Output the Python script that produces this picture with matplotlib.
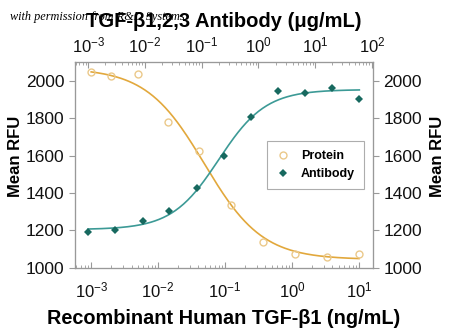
import numpy as np
import matplotlib
matplotlib.use("Agg")
import matplotlib.pyplot as plt
from matplotlib.ticker import LogLocator

plt.rcParams["font.family"] = ["Liberation Sans", "DejaVu Sans"]

# Protein (bottom axis, ng/mL)
protein_x = [0.001, 0.002, 0.005, 0.014, 0.041, 0.123, 0.37, 1.1, 3.3, 10]
protein_y = [2048, 2027, 2037, 1781, 1626, 1337, 1139, 1075, 1059, 1075]
# 4PL fit: bottom, top, ec50, hill
protein_fit = [1045, 2068, 0.049, 1.0]

# Antibody (top axis, ug/mL)
antibody_x = [0.001, 0.003, 0.0091, 0.027, 0.082, 0.247, 0.74, 2.22, 6.67, 20, 60]
antibody_y = [1193, 1203, 1251, 1305, 1428, 1599, 1807, 1947, 1936, 1963, 1904]
antibody_fit = [1205, 1953, 0.2, 1.05]

yticks = [1000, 1200, 1400, 1600, 1800, 2000]

gold = "#E2A83C"
teal = "#3C9A96"
teal_dark = "#17695F"

fig = plt.figure(figsize=(4.5, 3.32), dpi=100)
ax = fig.add_axes([0.167, 0.193, 0.662, 0.62])

xs = np.logspace(-3, 1, 200)
b, t, ec, h = protein_fit
ax.plot(xs, b + (t - b) / (1 + (xs / ec) ** h), color=gold, lw=1.2)
pts_p, = ax.plot(protein_x, protein_y, "o", mfc="none", mec="#EBC98A", ms=5, mew=1.0)
ax.set_xscale("log")
ax.set_xlim(10 ** -3.24, 10 ** 1.21)
ax.set_ylim(1000, 2100)
ax.set_yticks(yticks)

ax2 = ax.twiny()
ax2.set_xscale("log")
ax2.set_xlim(10 ** -3.23, 10 ** 2.02)
ax2.xaxis.set_major_locator(LogLocator(base=10, numticks=20))
ax2.xaxis.set_minor_locator(LogLocator(base=10, subs=np.arange(2, 10), numticks=20))
xa = np.logspace(-3, np.log10(60), 200)
b, t, ec, h = antibody_fit
ax2.plot(xa, b + (t - b) / (1 + (ec / xa) ** h), color=teal, lw=1.2)
pts_a, = ax2.plot(antibody_x, antibody_y, "D", color=teal_dark, ms=4.2, mew=0)

ax3 = ax.twinx()
ax3.set_ylim(1000, 2100)
ax3.set_yticks(yticks)

for a in (ax, ax2, ax3):
    for s in a.spines.values():
        s.set_color("#999999")
        s.set_linewidth(0.8)

ax.tick_params(axis="x", which="both", direction="in", colors="#999999", labelcolor="#111111", labelsize=12, pad=9)
ax.tick_params(axis="x", which="major", length=4)
ax.tick_params(axis="x", which="minor", length=2)
ax2.tick_params(axis="x", which="both", direction="in", colors="#999999", labelcolor="#111111", labelsize=12, pad=5)
ax2.tick_params(axis="x", which="major", length=4)
ax2.tick_params(axis="x", which="minor", length=2)
ax.tick_params(axis="y", direction="out", length=4, colors="#999999", labelcolor="#111111", labelsize=12.5)
ax3.tick_params(axis="y", direction="out", length=4, colors="#999999", labelcolor="#111111", labelsize=12.5)

ax.set_xlabel("Recombinant Human TGF-β1 (ng/mL)", fontsize=14.3, fontweight="bold", labelpad=6)
ax2.set_xlabel("TGF-β1,2,3 Antibody (μg/mL)", fontsize=14.5, fontweight="bold")
ax2.xaxis.set_label_coords(0.5, 1.17)

ax.set_ylabel("Mean RFU", fontsize=12, fontweight="bold", va="center")
ax.yaxis.set_label_coords(-0.2, 0.54)
ax3.set_ylabel("Mean RFU", fontsize=12, fontweight="bold", rotation=90, va="center")
ax3.yaxis.set_label_coords(1.215, 0.54)

leg = ax2.legend([pts_p, pts_a], ["Protein", "Antibody"], loc="center right",
                 bbox_to_anchor=(0.99, 0.5), frameon=True, fancybox=False,
                 prop={"weight": "bold", "size": 9}, handletextpad=0.8, handlelength=1.2,
                 borderpad=0.7)
leg.get_frame().set_edgecolor("#999999")
leg.get_frame().set_linewidth(0.8)

fig.text(0.022, 0.949, "with permission from R&D Systems", fontsize=8.8, style="italic",
         family="Liberation Serif", color="black", va="center")

fig.savefig("out.png", dpi=100)
